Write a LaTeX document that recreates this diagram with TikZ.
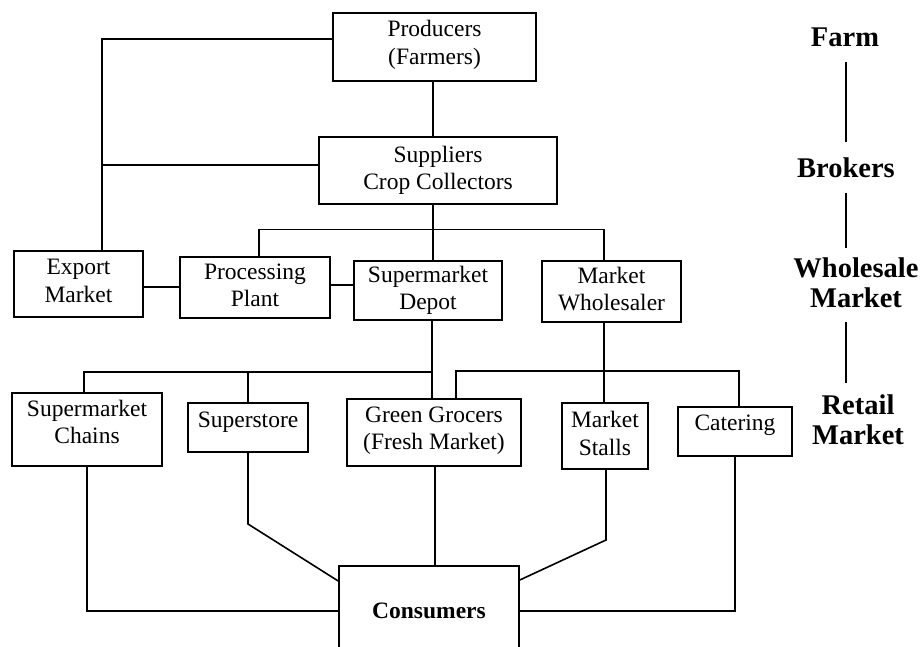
\documentclass[tikz,border=0pt]{standalone}
\usepackage{fontspec}
\setmainfont{Liberation Serif}
\usetikzlibrary{calc}
% box text: lines set as a centred stack, lifted by #1 without changing the box size
\newcommand{\boxlines}[2]{\raisebox{#1}[\height][\depth]{\begin{tabular}{@{}c@{}}#2\end{tabular}}}
\begin{document}
\begin{tikzpicture}[x=1pt,y=-1pt,
  link/.style={line width=1.6pt, line join=miter},
  stage/.style={draw, line width=1.6pt, inner sep=0pt, fill=white,
    font=\fontsize{23.5}{27.5}\selectfont},
  level/.style={inner sep=0pt, align=center,
    font=\fontsize{28.5}{30}\selectfont\bfseries},
  levellink/.style={line width=1.4pt},
]
\useasboundingbox (0,0) rectangle (923,647);

% supply chain boxes
\node[stage, minimum width=203pt, minimum height=68pt] (prod) at (434.5,47) {\boxlines{2pt}{Producers\\(Farmers)}};
\node[stage, minimum width=238pt, minimum height=67pt] (supp) at (438,170.5) {\boxlines{0pt}{Suppliers\\Crop Collectors}};
\node[stage, minimum width=129pt, minimum height=66pt] (export) at (78.5,284) {\boxlines{1pt}{Export\\Market}};
\node[stage, minimum width=150pt, minimum height=61pt] (proc) at (255,287.5) {\boxlines{0pt}{Processing\\Plant}};
\node[stage, minimum width=148pt, minimum height=59pt] (depot) at (428,290.5) {\boxlines{0pt}{Supermarket\\Depot}};
\node[stage, minimum width=139pt, minimum height=61pt] (whole) at (611.5,291.5) {\boxlines{0pt}{Market\\Wholesaler}};
\node[stage, minimum width=150pt, minimum height=73pt] (chains) at (87,429.5) {\boxlines{5pt}{Supermarket\\Chains}};
\node[stage, minimum width=120pt, minimum height=49pt] (superstore) at (248,427.5) {\boxlines{6pt}{Superstore}};
\node[stage, minimum width=174pt, minimum height=67pt] (grocers) at (434,432.5) {\boxlines{2pt}{Green Grocers\\(Fresh Market)}};
\node[stage, minimum width=86pt, minimum height=66pt] (stalls) at (605,436) {\boxlines{0pt}{Market\\Stalls}};
\node[stage, minimum width=114pt, minimum height=49pt] (catering) at (735,431.5) {\boxlines{7pt}{Catering}};
\node[stage, minimum width=180pt, minimum height=90pt, font=\fontsize{23.5}{27.5}\selectfont\bfseries] (cons) at (429,611) {Consumers};

% producers and suppliers feed the export market
\coordinate (elbowP) at (102,39);
\coordinate (elbowS) at (102,165);
\draw[link] (prod.west |- elbowP) -- (elbowP) -- (elbowP |- export.north);
\draw[link] (supp.west |- elbowS) -- (elbowS);

% main trunk and the wholesale-level bar
\coordinate (trunk) at (433,229.5);
\coordinate (barL) at (259,229.5);
\coordinate (barR) at (604,229.5);
\draw[link] (prod.south -| trunk) -- (supp.north -| trunk);
\draw[link] (supp.south -| trunk) -- (trunk) -- (trunk |- depot.north);
\draw[link] (barL |- proc.north) -- (barL) -- (barR) -- (barR |- whole.north);

% side links between wholesale-level boxes
\coordinate (sideA) at (160,287);
\coordinate (sideB) at (342,285);
\draw[link] (export.east |- sideA) -- (proc.west |- sideA);
\draw[link] (proc.east |- sideB) -- (depot.west |- sideB);

% supermarket depot to retail
\coordinate (depotDrop) at (432,372);
\coordinate (depotEnd) at (84,372);
\coordinate (storeDrop) at (248,372);
\draw[link] (depot.south -| depotDrop) -- (grocers.north -| depotDrop);
\draw[link] (depotEnd |- chains.north) -- (depotEnd) -- (depotDrop);
\draw[link] (storeDrop) -- (superstore.north);

% market wholesaler to retail
\coordinate (wholeDrop) at (604,371);
\coordinate (barA) at (456,371);
\coordinate (barB) at (739,371);
\draw[link] (whole.south -| wholeDrop) -- (stalls.north -| wholeDrop);
\draw[link] (barA |- grocers.north) -- (barA) -- (barB) -- (barB |- catering.north);

% retail outlets to consumers
\coordinate (bendS) at (248,524);
\coordinate (entS) at (0,581);
\coordinate (groDrop) at (435,0);
\coordinate (bendM) at (606,540);
\coordinate (entM) at (0,580);
\draw[link] (chains.south) |- (cons.west);
\draw[link] (superstore.south) -- (bendS) -- (cons.west |- entS);
\draw[link] (grocers.south -| groDrop) -- (cons.north -| groDrop);
\draw[link] (stalls.south -| bendM) -- (bendM) -- (cons.east |- entM);
\draw[link] (catering.south) |- (cons.east);

% market levels
\node[level] (farm) at (845,37) {Farm};
\node[level] (brokers) at (846,168) {Brokers};
\node[level] (wsale) at (856,283) {Wholesale\\Market};
\node[level] (retail) at (858,420) {Retail\\Market};
\coordinate (axis) at (846,0);
\draw[levellink, shorten <=15pt, shorten >=16pt] (farm.south -| axis) -- (brokers.north -| axis);
\draw[levellink, shorten <=15pt, shorten >=10pt] (brokers.south -| axis) -- (wsale.north -| axis);
\draw[levellink, shorten <=14pt, shorten >=12pt] (wsale.south -| axis) -- (retail.north -| axis);
\end{tikzpicture}
\end{document}
